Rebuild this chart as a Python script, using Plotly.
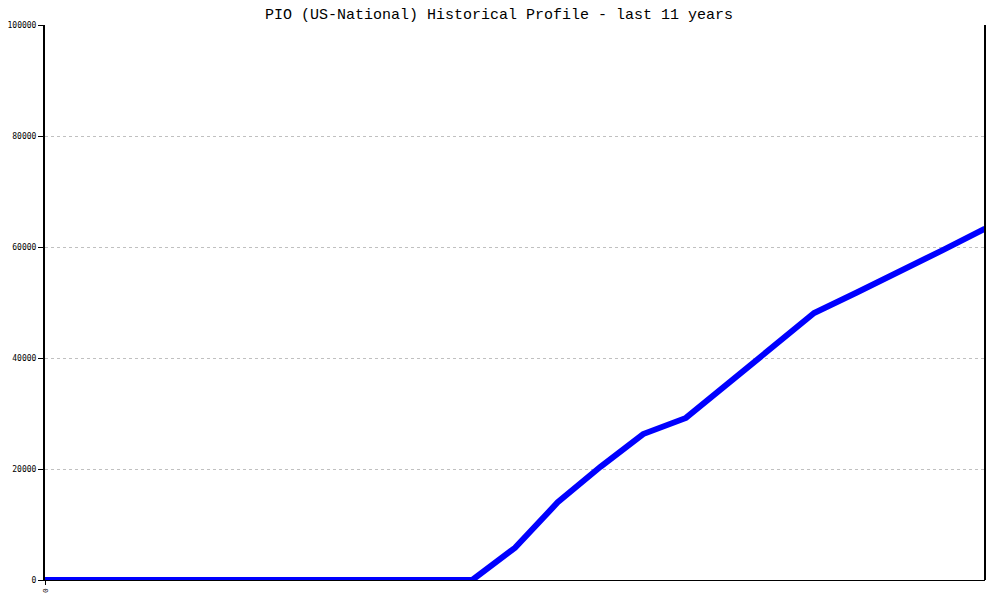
"""Plotly recreation: PIO (US-National) historical profile line chart."""

import plotly.graph_objects as go

# half-year steps over the last 11 years
periods = list(range(23))
values = [
    0, 0, 0, 0, 0, 0, 0, 0, 0, 0, 0,
    5800, 14000, 20400, 26300, 29200, 35500, 41800, 48100,
    51800, 55500, 59400, 63300,
]
y_ticks = [0, 20000, 40000, 60000, 80000, 100000]
x_ticks = [0]
x_tick_text = ["0"]

MONO = "Liberation Mono, DejaVu Sans Mono, monospace"

fig = go.Figure(
    go.Scatter(
        x=periods,
        y=values,
        mode="lines",
        line=dict(color="#0000ff", width=6),
        cliponaxis=False,
        hoverinfo="x+y",
    )
)

# page body adds ~8px offset, margins compensate for it
fig.update_layout(
    width=1000,
    height=600,
    margin=dict(l=37, r=23, t=17, b=28),
    paper_bgcolor="white",
    plot_bgcolor="white",
    showlegend=False,
    title=dict(
        text="PIO (US-National) Historical Profile - last 11 years",
        x=0.491,
        xanchor="center",
        y=1,
        yanchor="top",
        pad=dict(t=0),
        font=dict(family=MONO, size=15, color="black"),
    ),
    xaxis=dict(
        range=[0, 22],
        tickmode="array",
        tickvals=x_ticks,
        ticktext=x_tick_text,
        tickangle=-90,
        ticks="outside",
        ticklen=4,
        tickcolor="black",
        showgrid=False,
        zeroline=False,
        showline=True,
        linecolor="black",
        linewidth=1,
        layer="below traces",
        automargin=False,
        tickfont=dict(family=MONO, size=8, color="black"),
    ),
    yaxis=dict(
        range=[0, 100000],
        tickmode="array",
        tickvals=y_ticks,
        tickformat="d",
        ticks="outside",
        ticklen=5,
        tickcolor="black",
        showgrid=True,
        gridcolor="#c0c0c0",
        griddash="dot",
        gridwidth=1,
        zeroline=False,
        showline=True,
        linecolor="black",
        linewidth=2,
        layer="below traces",
        automargin=False,
        tickfont=dict(family="DejaVu Sans Mono, monospace", size=8, color="black"),
    ),
    shapes=[
        dict(
            type="line",
            xref="paper",
            yref="paper",
            x0=1,
            x1=1,
            y0=0,
            y1=1,
            line=dict(color="black", width=2),
        )
    ],
)

fig.write_html("out.html")
